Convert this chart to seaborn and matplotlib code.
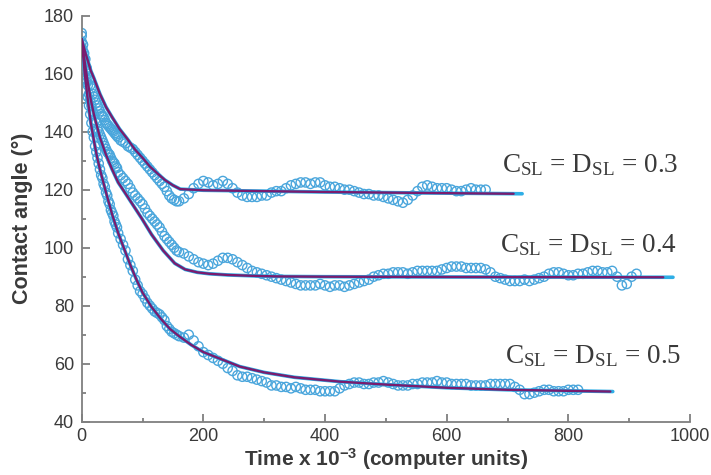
import numpy as np
import pandas as pd
import matplotlib
matplotlib.use("Agg")
import matplotlib.pyplot as plt
import seaborn as sns
from matplotlib.ticker import MultipleLocator

# ---------------- data ----------------
# sampling grid (time x 10^-3): dense at start, coarser later
t_early = list(range(0, 60, 2)) + list(range(60, 160, 4))
late_start, late_step = 160, 8

# scatter data, C_SL = D_SL = 0.3
y03_early = [173, 170, 167, 165, 162, 160, 158, 156, 155, 153, 152, 151, 150, 149, 148,
             147, 146, 145.5, 145, 144, 143, 142.5, 142, 141.5, 141, 140.5, 140, 139.5, 139, 138.5,
             138, 137, 136.5, 136, 135, 134.5, 134, 133, 132, 131, 130, 129, 128, 127, 126,
             125, 124, 123, 122, 121, 119.5, 118, 117, 116.5, 116]
y03_late = [116, 117, 118.5, 120.5, 122, 123, 122.5, 121.5, 122, 123, 122, 120.5, 119, 118,
            117.5, 117.5, 117.5, 118, 118, 119, 119.5, 119.5, 120.5, 121.5, 122, 122.5, 122.5,
            122, 122.5, 122.5, 121.5, 121, 121, 120.5, 120, 120, 119.5, 119, 118.5, 118.5, 118,
            118, 117.5, 117, 116.5, 116, 115.5, 116.5, 118, 119.5, 121, 121.5, 121, 120.5, 120.5,
            120.5, 120, 119.5, 119.5, 120, 120.5, 120, 120, 120]

# scatter data, C_SL = D_SL = 0.4
y04_early = [171, 168, 164, 161, 158, 156, 153, 151, 149, 147, 146, 144, 143, 141, 140,
             139, 138, 137, 136, 135, 134, 133, 132.5, 132, 131, 130, 129.5, 129, 128, 127.5,
             126, 125, 124, 123, 122, 120.5, 119, 118, 117, 116, 115, 113.5, 112, 111, 110,
             109, 108, 107, 105.5, 104, 103, 102, 101, 100, 99]
y04_late = [98.5, 98, 97, 96, 95, 94.5, 94, 94.5, 95.5, 96.5, 96.5, 96, 95, 94, 93, 92, 91.5,
            91, 90.5, 90, 89.5, 89, 88.5, 88, 87.5, 87, 87, 87, 87, 87.5, 87, 86.5, 87, 87, 86.5,
            87, 87.5, 88, 88.5, 89, 90, 90.5, 91, 91, 91.5, 91.5, 91.5, 91, 91.5, 92, 92, 92, 92,
            92, 92.5, 93, 93.5, 93.5, 93.5, 93, 93, 93, 93, 92.5, 91.5, 90, 89.5, 89, 88.5, 88.5,
            88.5, 89, 88.5, 89, 89.5, 90, 91, 91.5, 91.5, 91, 90.5, 90.5, 91, 91, 91.5, 92, 92,
            91.5, 91.5, 92, 90, 87, 87.5, 90, 91]

# scatter data, C_SL = D_SL = 0.5
y05_early = [174, 170, 165, 161, 157, 152, 149, 146, 143, 140, 138, 135, 133, 131, 129,
             127, 125, 124, 122, 121, 119, 118, 116, 115, 113, 112, 111, 109, 108, 107,
             105, 103, 101, 99, 96, 94, 92, 89, 87, 85, 84, 82.5, 81, 80, 79,
             78, 77.5, 77, 76, 75, 73, 72, 71, 70.5, 70]
y05_late = [69.5, 69, 70, 68, 66, 64, 63, 62, 61, 60, 58.5, 57.5, 56, 55.5, 55.5, 55, 54.5,
            54, 53.5, 52.5, 52.5, 52, 52, 51.5, 52, 51.5, 51, 51, 51, 50.5, 50.5, 50.5, 50.5,
            51.5, 52.5, 53, 53.5, 53.5, 53, 53, 53.5, 53.5, 54, 53.5, 53, 52.5, 52.5, 52.5, 53,
            53, 53.5, 53.5, 53.5, 54, 53.5, 53.5, 53, 53, 53, 53, 52.5, 52.5, 52.5, 52.5, 53, 53,
            53, 53, 53, 52, 51, 49.5, 49.5, 50, 50.5, 51, 51, 50.5, 50.5, 50.5, 51, 51, 51]

# fitted curves (purple)
fit03_t = [0, 5, 10, 15, 20, 30, 40, 50, 62, 75, 87, 100, 112, 125, 137, 150, 162,
           200, 300, 400, 500, 600, 710]
fit03_y = [172, 168, 164.5, 161, 158.5, 153, 148.5, 145, 141, 137.5, 134, 131, 128, 125.5,
           123.3, 121.5, 120.2, 119.8, 119.5, 119.2, 119, 118.8, 118.6]
fit04_t = [0, 5, 10, 15, 20, 30, 40, 50, 60, 71, 85, 99, 115, 134, 153, 170, 190, 210,
           240, 280, 320, 400, 600, 956]
fit04_y = [172, 164, 157, 151, 146, 138, 132, 127, 122.5, 119, 114.5, 110, 104.5, 99, 94.6,
           92.5, 91.5, 91, 90.6, 90.3, 90.1, 90, 89.9, 89.8]
fit05_t = [0, 5, 10, 15, 20, 25, 30, 40, 50, 60, 70, 80, 90, 100, 115, 130, 145, 160, 180,
           200, 230, 260, 300, 350, 425, 500, 600, 700, 869]
fit05_y = [172, 160, 151, 143, 137, 131.5, 127, 119, 111.5, 105, 99.5, 94, 89, 84.5, 79.5,
           75.5, 72, 69.5, 66.5, 64, 61.5, 59, 57, 55.3, 53.8, 52.8, 51.7, 51, 50.4]
# the second (cyan) curve runs a little further
cyan_end = {"0.3": 724, "0.4": 972, "0.5": 873}

labels = ["0.3", "0.4", "0.5"]
label_pos = {"0.3": (691, 126.2), "0.4": (688, 98.6), "0.5": (696, 60.1)}

# ---------------- build frames ----------------
def make_scatter(early, late):
    t = list(t_early[:len(early)]) + [late_start + late_step * i for i in range(len(late))]
    return pd.DataFrame({"t": t, "angle": list(early) + list(late)})

scatters = {
    "0.3": make_scatter(y03_early, y03_late),
    "0.4": make_scatter(y04_early, y04_late),
    "0.5": make_scatter(y05_early, y05_late),
}
fits = {
    "0.3": pd.DataFrame({"t": fit03_t, "angle": fit03_y}),
    "0.4": pd.DataFrame({"t": fit04_t, "angle": fit04_y}),
    "0.5": pd.DataFrame({"t": fit05_t, "angle": fit05_y}),
}

# ---------------- style ----------------
sns.set_style("ticks")
plt.rcParams["font.family"] = ["Liberation Sans", "DejaVu Sans"]
plt.rcParams["mathtext.fontset"] = "custom"
plt.rcParams["mathtext.rm"] = "Liberation Serif"
plt.rcParams["mathtext.it"] = "Liberation Serif:italic"
plt.rcParams["mathtext.bf"] = "Liberation Serif:bold"

SCAT = "#4aa6dc"
CYAN = "#2eaee6"
PURP = "#7a1c6e"
AX = "#7f7f7f"
TXT = "#3a3a3a"

fig = plt.figure(figsize=(7.11, 4.75), dpi=100)
ax = fig.add_axes([0.1149, 0.1122, 0.9705 - 0.1149, 0.967 - 0.1122])

for lab in labels:
    sc = scatters[lab]
    sns.scatterplot(data=sc, x="t", y="angle", ax=ax, marker="o", s=44,
                    facecolor="none", edgecolor=SCAT, linewidth=1.0, zorder=2)

for lab in labels:
    f = fits[lab]
    fc = f.copy()
    fc.loc[fc.index[-1], "t"] = cyan_end[lab]
    sns.lineplot(data=fc, x="t", y="angle", ax=ax, color=CYAN, lw=2.6,
                 sort=False, estimator=None, zorder=3)
    sns.lineplot(data=f, x="t", y="angle", ax=ax, color=PURP, lw=1.7,
                 sort=False, estimator=None, zorder=4)

for lab in labels:
    x, y = label_pos[lab]
    ax.text(x, y, r"C$_{\mathrm{SL}}$ = D$_{\mathrm{SL}}$ = " + lab,
            fontsize=19.5, color=TXT, family="Liberation Serif",
            ha="left", va="baseline")

ax.set_xlim(0, 1000)
ax.set_ylim(40, 180)
ax.xaxis.set_major_locator(MultipleLocator(200))
ax.xaxis.set_minor_locator(MultipleLocator(100))
ax.yaxis.set_major_locator(MultipleLocator(20))
ax.yaxis.set_minor_locator(MultipleLocator(10))

sns.despine(ax=ax)
for s in ["left", "bottom"]:
    ax.spines[s].set_color(AX)
    ax.spines[s].set_linewidth(1.3)

ax.tick_params(which="both", direction="in", color=AX, width=1.3)
ax.tick_params(which="major", length=6, labelsize=13, labelcolor=TXT)
ax.tick_params(which="minor", length=3.2)
ax.tick_params(axis="y", which="major", pad=5.5)
ax.tick_params(axis="x", which="major", pad=4.5)

ax.set_xlabel(r"Time x 10$^{\mathregular{-3}}$ (computer units)", fontsize=15,
              fontweight="bold", color=TXT, labelpad=1)
ax.set_ylabel("Contact angle (°)", fontsize=15.5, fontweight="bold", color=TXT,
              labelpad=8)

fig.savefig("out.png", dpi=100)
